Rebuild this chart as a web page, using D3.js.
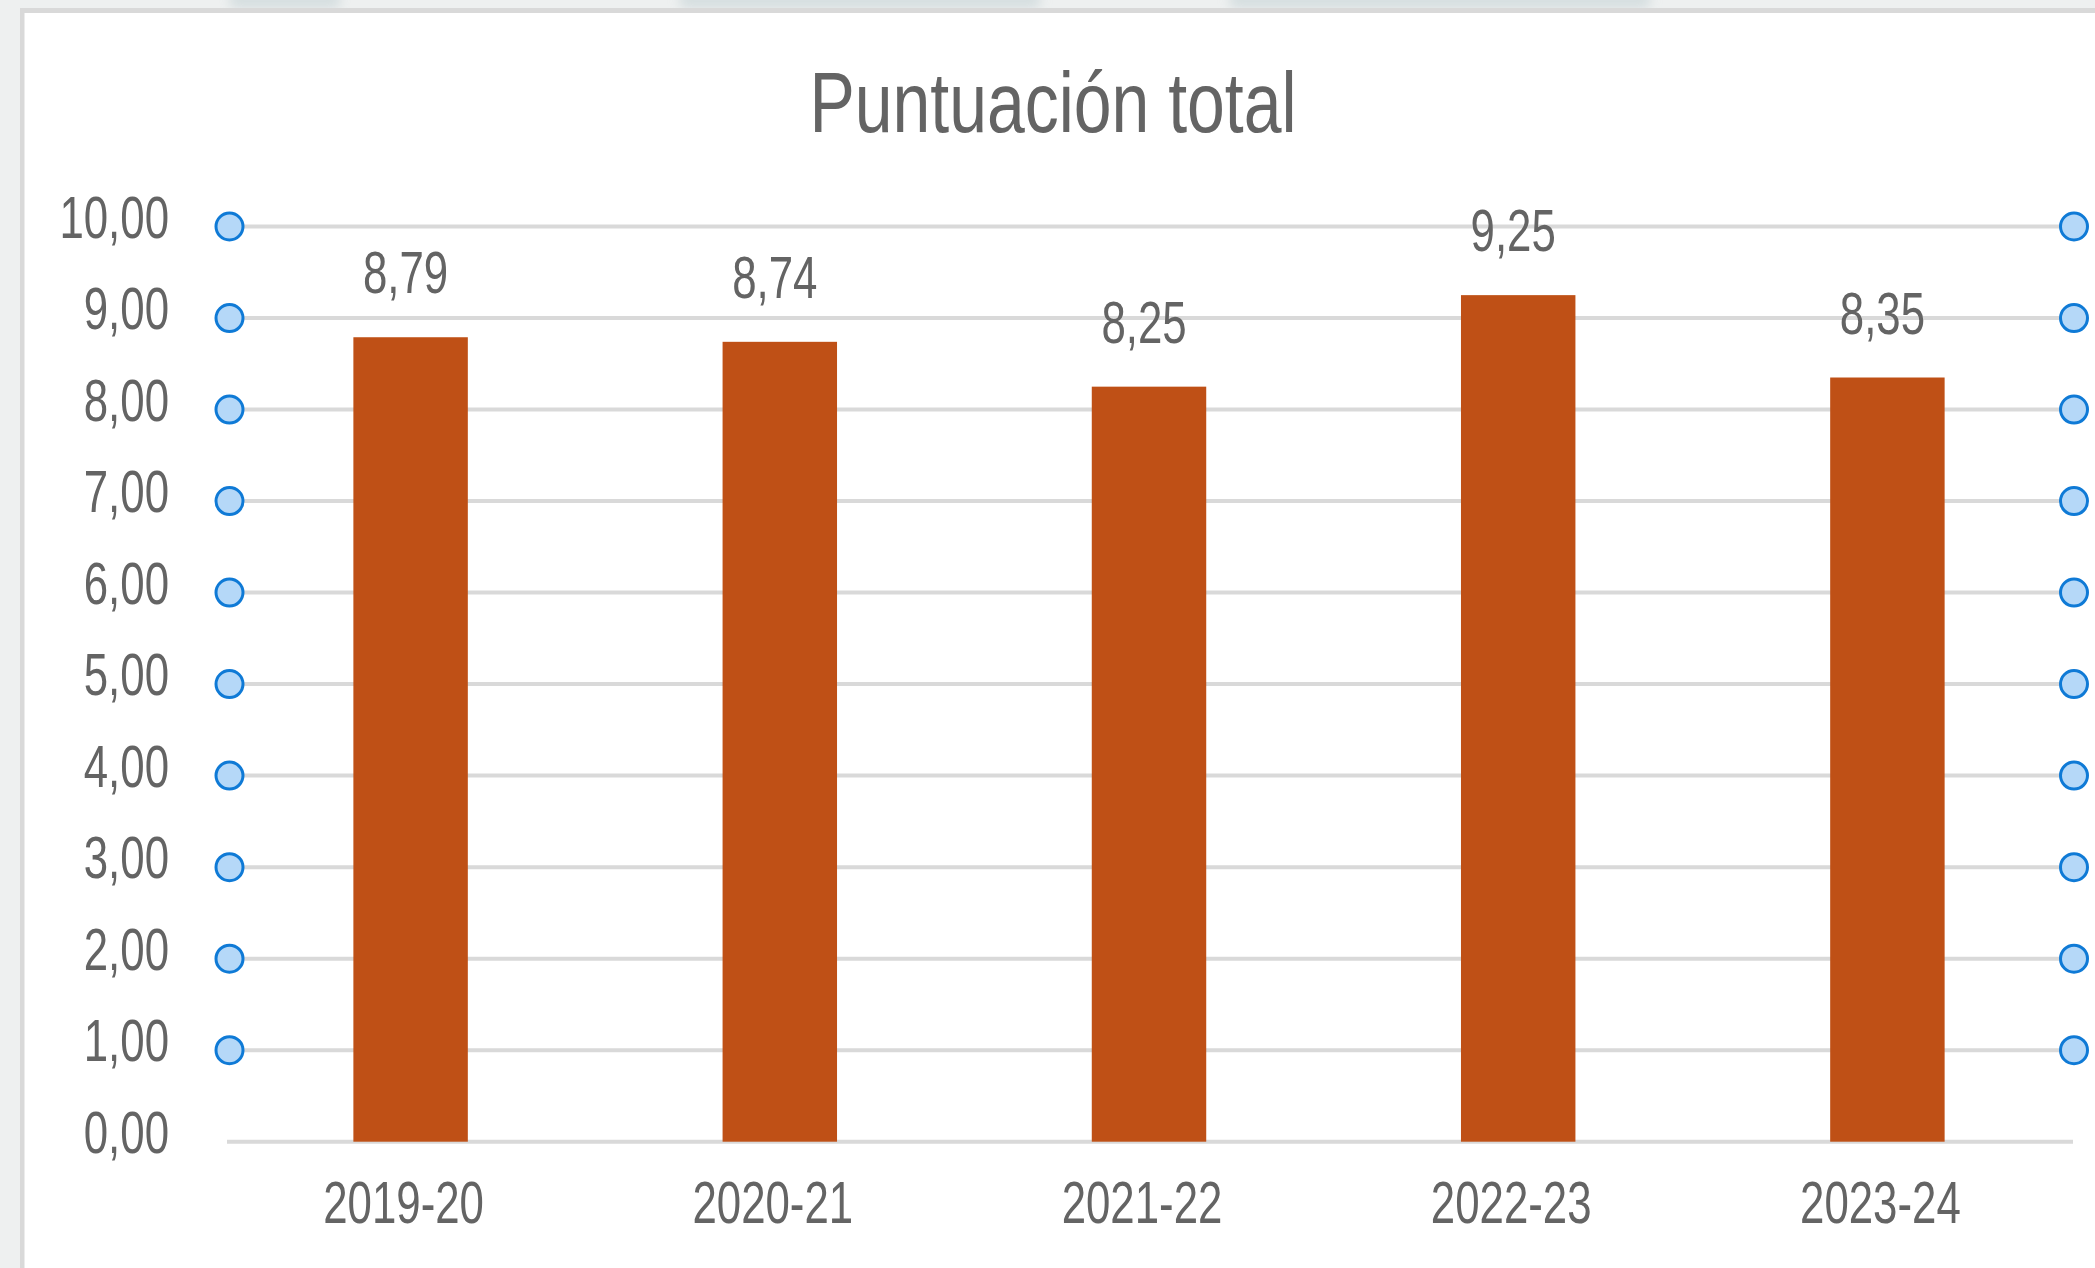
<!DOCTYPE html>
<html>
<head>
<meta charset="utf-8">
<script src="https://cdn.jsdelivr.net/npm/d3@7"></script>
<style>
  html, body { margin: 0; padding: 0; background: #eef0f0; }
  svg { display: block; }
  text { font-family: "Liberation Sans", Arial, sans-serif; fill: #646464; }
</style>
</head>
<body>
<div id="chart"></div>
<script>
// ── Data ──
const seasons = ["2019-20", "2020-21", "2021-22", "2022-23", "2023-24"];
const scores = [8.79, 8.74, 8.25, 9.25, 8.35];
const yTicks = [0, 1, 2, 3, 4, 5, 6, 7, 8, 9, 10];
const gridValues = [1, 2, 3, 4, 5, 6, 7, 8, 9, 10];
const chartTitle = "Puntuación total";

(function () {
  const W = 2095, H = 1268;
  const esLocale = d3.formatLocale({ decimal: ",", thousands: ".", grouping: [3], currency: ["", " €"] });
  const fmt = esLocale.format(".2f");
  const squeeze = 0.73;   // the source rendering is horizontally narrow
  const textColor = "#646464";

  const svg = d3.select("#chart").append("svg")
    .attr("width", W).attr("height", H);

  // ── Background: outer window + chart panel ──
  svg.append("rect").attr("x", 0).attr("y", 0).attr("width", W).attr("height", H).attr("fill", "#eef0f0");
  const defs = svg.append("defs");
  const blur = defs.append("filter").attr("id", "soft");
  blur.append("feGaussianBlur").attr("stdDeviation", 6);
  [[230, 110], [680, 360], [1230, 420]].forEach(([x0, w]) => {
    svg.append("rect").attr("x", x0).attr("y", -10).attr("width", w).attr("height", 18)
      .attr("fill", "#c9d6d8").attr("opacity", 0.7).attr("filter", "url(#soft)");
  });
  svg.append("rect").attr("x", 20).attr("y", 8).attr("width", W).attr("height", H)
    .attr("fill", "#d9d9d9");
  svg.append("rect").attr("x", 24.5).attr("y", 13).attr("width", W).attr("height", H)
    .attr("fill", "#ffffff");

  // ── Scales ──
  const x = d3.scaleBand()
    .domain(seasons)
    .range([226, 2072])
    .paddingInner(0.69)
    .paddingOuter(0.345);

  const y = d3.scaleLinear()
    .domain([0, 10])
    .range([1141.7, 226.5]);

  // ── Title ──
  svg.append("text")
    .attr("transform", `translate(1053,132) scale(0.79,1)`)
    .attr("text-anchor", "middle")
    .attr("font-size", "86px")
    .attr("fill", textColor)
    .text(chartTitle);

  // ── Gridlines with selection handles ──
  const dotL = 229.5, dotR = 2074;
  svg.append("g").selectAll("line")
    .data(gridValues).join("line")
    .attr("x1", dotL + 14).attr("x2", dotR - 14)
    .attr("y1", d => y(d)).attr("y2", d => y(d))
    .attr("stroke", "#d9d9d9").attr("stroke-width", 4);

  // Baseline
  svg.append("line")
    .attr("x1", 227).attr("x2", 2073)
    .attr("y1", y(0)).attr("y2", y(0))
    .attr("stroke", "#d9d9d9").attr("stroke-width", 4);

  // ── Bars ──
  svg.append("g").selectAll("rect")
    .data(seasons).join("rect")
    .attr("x", d => x(d))
    .attr("width", x.bandwidth())
    .attr("y", (d, i) => y(scores[i]))
    .attr("height", (d, i) => y(0) - y(scores[i]))
    .attr("fill", "#bf5016");

  // Handles (drawn above gridlines)
  const handles = svg.append("g");
  [dotL, dotR].forEach(cx => {
    handles.selectAll(null)
      .data(gridValues).join("circle")
      .attr("cx", cx).attr("cy", d => y(d))
      .attr("r", 13.5)
      .attr("fill", "#b5d8f8")
      .attr("stroke", "#0f7ad6")
      .attr("stroke-width", 3);
  });

  // ── Y axis ──
  const yAxis = svg.append("g")
    .attr("transform", "translate(169,0)")
    .call(d3.axisLeft(y).tickValues(yTicks).tickFormat(fmt).tickSize(0).tickPadding(0));
  yAxis.select(".domain").remove();
  yAxis.selectAll("text")
    .attr("x", 0).attr("dy", "10.5")
    .attr("transform", `scale(${squeeze},1)`)
    .attr("font-size", "60px")
    .attr("font-family", "Liberation Sans, Arial, sans-serif")
    .attr("fill", textColor);

  // ── X axis ──
  const xAxis = svg.append("g")
    .attr("transform", `translate(-7,${y(0)})`)
    .call(d3.axisBottom(x).tickSize(0).tickPadding(0));
  xAxis.select(".domain").remove();
  xAxis.selectAll("text")
    .attr("y", 0).attr("dy", "81")
    .attr("transform", `scale(${squeeze},1)`)
    .attr("font-size", "60px")
    .attr("font-family", "Liberation Sans, Arial, sans-serif")
    .attr("fill", textColor);

  // ── Data labels ──
  svg.append("g").selectAll("text")
    .data(seasons).join("text")
    .attr("transform", (d, i) => `translate(${x(d) + x.bandwidth() / 2 - 5},${y(scores[i]) - 44}) scale(${squeeze},1)`)
    .attr("text-anchor", "middle")
    .attr("font-size", "60px")
    .attr("fill", textColor)
    .text((d, i) => fmt(scores[i]));
})();
</script>
</body>
</html>
